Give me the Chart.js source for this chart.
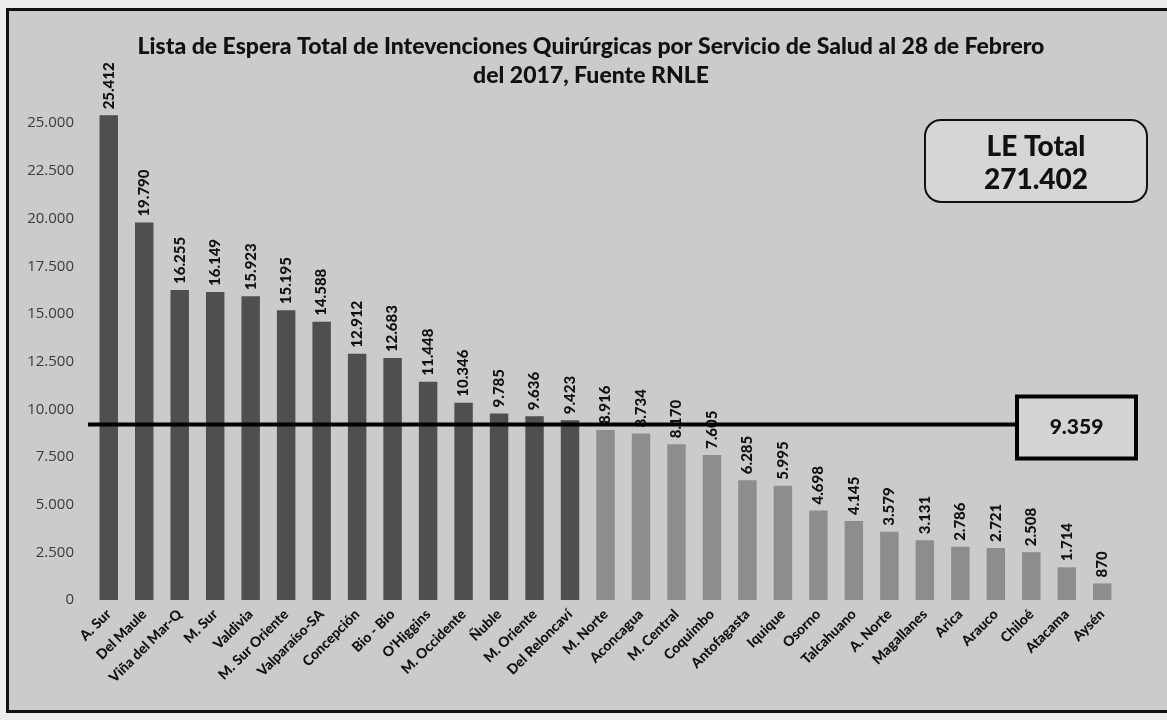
<!DOCTYPE html>
<html>
<head>
<meta charset="utf-8">
<script src="https://cdn.jsdelivr.net/npm/chart.js@4/dist/chart.umd.min.js"></script>
<style>
  html, body { margin: 0; padding: 0; overflow: hidden; background: #ececec; }
  #marco {
    position: absolute; left: 6px; top: 8px; width: 1170px; height: 699px;
    border: 3px solid #111; background: #cbcbcb;
  }
  #grafico { position: absolute; left: 0; top: 0; }
</style>
</head>
<body>
<div id="marco"><canvas id="grafico" width="1158" height="699"></canvas></div>
<script>
// servicios de salud, ordenados por lista de espera
const servicios = ['A. Sur', 'Del Maule', 'Viña del Mar-Q', 'M. Sur', 'Valdivia', 'M. Sur Oriente',
  'Valparaíso-SA', 'Concepción', 'Bio - Bio', "O'Higgins", 'M. Occidente', 'Ñuble', 'M. Oriente',
  'Del Reloncaví', 'M. Norte', 'Aconcagua', 'M. Central', 'Coquimbo', 'Antofagasta', 'Iquique',
  'Osorno', 'Talcahuano', 'A. Norte', 'Magallanes', 'Arica', 'Arauco', 'Chiloé', 'Atacama', 'Aysén'];
const listaEspera = [25412, 19790, 16255, 16149, 15923, 15195, 14588, 12912, 12683, 11448, 10346,
  9785, 9636, 9423, 8916, 8734, 8170, 7605, 6285, 5995, 4698, 4145, 3579, 3131, 2786, 2721, 2508,
  1714, 870];
const ticksY = [0, 2500, 5000, 7500, 10000, 12500, 15000, 17500, 20000, 22500, 25000];
const titulo = ['Lista de Espera Total de Intevenciones Quirúrgicas por Servicio de Salud al 28 de Febrero',
  'del 2017, Fuente RNLE'];

const total = listaEspera.reduce((a, b) => a + b, 0);
const promedio = Math.round(total / listaEspera.length);

const fmt = (v) => v.toLocaleString('de-DE');
const fuente = 'Lato, "Open Sans", sans-serif';

const extras = {
  id: 'extras',
  afterDatasetsDraw(chart) {
    const ctx = chart.ctx;
    const area = chart.chartArea;
    const y = chart.scales.y;
    const meta = chart.getDatasetMeta(0);

    // etiquetas de valor, verticales
    ctx.save();
    ctx.fillStyle = '#111';
    ctx.font = '900 15px ' + fuente;
    ctx.textAlign = 'left';
    ctx.textBaseline = 'middle';
    meta.data.forEach((bar, i) => {
      ctx.save();
      ctx.translate(bar.x, bar.y - 6);
      ctx.rotate(-Math.PI / 2);
      ctx.fillText(fmt(listaEspera[i]), 0, 0);
      ctx.restore();
    });
    ctx.restore();

    // linea de promedio
    const yp = y.getPixelForValue(promedio);
    const bx = area.right - 103, bw = 119, bh = 62;
    ctx.save();
    ctx.strokeStyle = '#000';
    ctx.lineWidth = 4;
    ctx.beginPath();
    ctx.moveTo(area.left - 3, yp + 3);
    ctx.lineTo(bx, yp + 3);
    ctx.stroke();
    ctx.lineWidth = 4;
    ctx.fillStyle = '#d4d4d4';
    ctx.fillRect(bx, yp - 25, bw, bh);
    ctx.strokeRect(bx, yp - 25, bw, bh);
    ctx.fillStyle = '#111';
    ctx.font = '900 21px ' + fuente;
    ctx.textAlign = 'center';
    ctx.textBaseline = 'middle';
    ctx.fillText(fmt(promedio), bx + bw / 2, yp + 6);
    ctx.restore();

    // cuadro total
    const tx = area.right - 195, ty = area.top + 54, tw = 222, th = 82;
    ctx.save();
    ctx.fillStyle = '#d6d6d6';
    ctx.strokeStyle = '#111';
    ctx.lineWidth = 2;
    ctx.beginPath();
    ctx.roundRect(tx, ty, tw, th, 16);
    ctx.fill();
    ctx.stroke();
    ctx.fillStyle = '#111';
    ctx.font = '900 28px ' + fuente;
    ctx.textAlign = 'center';
    ctx.textBaseline = 'middle';
    ctx.fillText('LE Total', tx + tw / 2, ty + 27);
    ctx.fillText(fmt(total), tx + tw / 2, ty + 60);
    ctx.restore();

    // titulo
    ctx.save();
    ctx.fillStyle = '#111';
    ctx.font = '900 23px ' + fuente;
    ctx.textAlign = 'center';
    ctx.textBaseline = 'middle';
    ctx.fillText(titulo[0], 582, 36);
    ctx.fillText(titulo[1], 582, 65);
    ctx.restore();
  }
};

new Chart(document.getElementById('grafico').getContext('2d'), {
  type: 'bar',
  data: {
    labels: servicios,
    datasets: [{
      data: listaEspera,
      backgroundColor: servicios.map((s, i) => i < 14 ? '#4f4f4f' : '#8d8d8d'),
      borderWidth: 0,
      barPercentage: 0.52,
      categoryPercentage: 1
    }]
  },
  plugins: [extras],
  options: {
    responsive: false,
    animation: false,
    layout: { padding: { top: 55, right: 47, left: 0, bottom: 0 } },
    plugins: { legend: { display: false }, tooltip: { enabled: false } },
    scales: {
      x: {
        grid: { display: false, drawTicks: false },
        border: { display: false },
        afterFit: (s) => { s.height = 110; },
        ticks: {
          autoSkip: false, maxRotation: 45, minRotation: 45, padding: 6,
          color: '#111', font: { family: fuente, weight: '900', size: 14 }
        }
      },
      y: {
        min: 0, max: 28000,
        grid: { display: false, drawTicks: false },
        border: { display: false },
        afterFit: (s) => { s.width = 82; },
        afterBuildTicks: (s) => { s.ticks = ticksY.map(v => ({ value: v })); },
        ticks: {
          padding: 17, color: '#3a3a3a',
          font: { family: '"Open Sans", sans-serif', size: 15 },
          callback: (v) => fmt(v)
        }
      }
    }
  }
});
</script>
</body>
</html>
